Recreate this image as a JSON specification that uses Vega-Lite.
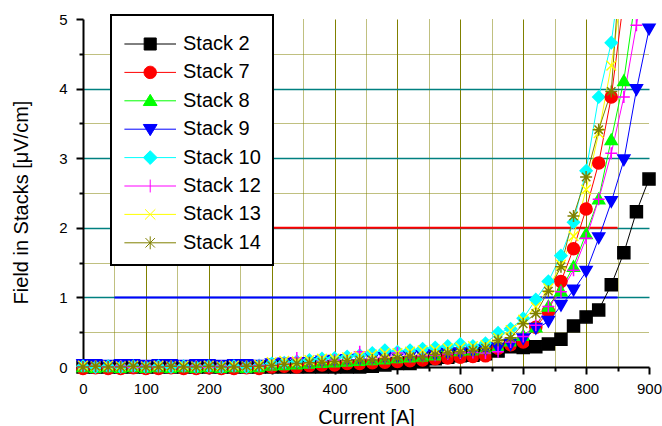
{
  "$schema": "https://vega.github.io/schema/vega-lite/v6.json",
  "width": 566,
  "height": 348,
  "autosize": {"type": "none"},
  "padding": {"left": 83, "top": 19, "right": 13, "bottom": 59},
  "background": "white",
  "config": {"view": {"stroke": null}, "font": "Liberation Sans"},
  "encoding": {
    "x": {
      "field": "x",
      "type": "quantitative",
      "scale": {"domain": [0, 900], "nice": false, "zero": false},
      "axis": {
        "title": "Current [A]",
        "values": [0, 50, 100, 150, 200, 250, 300, 350, 400, 450, 500, 550, 600, 650, 700, 750, 800, 850, 900],
        "labelExpr": "datum.value % 100 === 0 ? format(datum.value, 'd') : ''",
        "labelFont": "Liberation Sans",
        "labelFontSize": 15,
        "labelColor": "black",
        "labelPadding": 7,
        "labelFlush": false,
        "labelOverlap": false,
        "titleFont": "Liberation Sans",
        "titleFontSize": 20,
        "titleFontWeight": "normal",
        "titleColor": "black",
        "titleBaseline": "alphabetic",
        "titleX": 283,
        "titleY": 56,
        "domainColor": "black",
        "domainWidth": 2,
        "tickColor": "black",
        "tickWidth": 2,
        "tickSize": {"condition": {"test": "datum.value % 100 !== 0", "value": 4}, "value": 7},
        "grid": true,
        "gridColor": "#808000",
        "gridWidth": 1,
        "gridDash": {"condition": {"test": "datum.value % 100 !== 0", "value": [1, 1]}, "value": []},
        "gridOpacity": {"condition": {"test": "datum.value === 0 || datum.value === 900", "value": 0}, "value": 1}
      }
    },
    "y": {
      "field": "value",
      "type": "quantitative",
      "scale": {"domain": [0, 5], "nice": false, "zero": false},
      "axis": {
        "title": "Field in Stacks [μV/cm]",
        "values": [0, 0.5, 1, 1.5, 2, 2.5, 3, 3.5, 4, 4.5, 5],
        "labelExpr": "datum.value % 1 === 0 ? format(datum.value, 'd') : ''",
        "labelFont": "Liberation Sans",
        "labelFontSize": 15,
        "labelColor": "black",
        "labelPadding": 9,
        "labelFlush": false,
        "labelOverlap": false,
        "titleFont": "Liberation Sans",
        "titleFontSize": 20,
        "titleFontWeight": "normal",
        "titleColor": "black",
        "titleAngle": -90,
        "titleAlign": "center",
        "titleBaseline": "alphabetic",
        "titleX": -56,
        "titleY": 183,
        "domainColor": "black",
        "domainWidth": 2,
        "tickColor": "black",
        "tickWidth": 2,
        "tickSize": {"condition": {"test": "datum.value % 1 !== 0", "value": 4}, "value": 7},
        "grid": true,
        "gridColor": {"condition": {"test": "datum.value % 1 !== 0", "value": "#808000"}, "value": "#008080"},
        "gridWidth": {"condition": {"test": "datum.value % 1 !== 0", "value": 1}, "value": 1.3},
        "gridDash": {"condition": {"test": "datum.value % 1 !== 0", "value": [1, 1]}, "value": []},
        "gridOpacity": {"condition": {"test": "datum.value === 0 || datum.value === 5", "value": 0}, "value": 1}
      }
    }
  },
  "layer": [
    {
      "data": {"values": [{"value": 2, "x": 50, "x2": 850}]},
      "mark": {"type": "rule", "color": "#FF0000", "strokeWidth": 2},
      "encoding": {"x2": {"field": "x2"}}
    },
    {
      "data": {"values": [{"value": 1, "x": 50, "x2": 850}]},
      "mark": {"type": "rule", "color": "#0000FF", "strokeWidth": 2},
      "encoding": {"x2": {"field": "x2"}}
    },
    {
      "data": {
        "values": [
          {"x": 0, "Stack 2": 0, "Stack 7": -0.02, "Stack 8": 0.01, "Stack 9": 0.03, "Stack 10": 0.01, "Stack 12": 0.0, "Stack 13": 0.02, "Stack 14": 0.0},
          {"x": 20, "Stack 2": 0, "Stack 7": -0.01, "Stack 8": 0.0, "Stack 9": 0.03, "Stack 10": 0.0, "Stack 12": 0.01, "Stack 13": 0.01, "Stack 14": 0.01},
          {"x": 40, "Stack 2": 0, "Stack 7": -0.02, "Stack 8": 0.01, "Stack 9": 0.02, "Stack 10": 0.01, "Stack 12": 0.0, "Stack 13": 0.02, "Stack 14": 0.0},
          {"x": 60, "Stack 2": 0, "Stack 7": -0.02, "Stack 8": 0.0, "Stack 9": 0.03, "Stack 10": 0.0, "Stack 12": 0.01, "Stack 13": 0.01, "Stack 14": 0.0},
          {"x": 80, "Stack 2": 0, "Stack 7": -0.01, "Stack 8": 0.01, "Stack 9": 0.03, "Stack 10": 0.01, "Stack 12": 0.0, "Stack 13": 0.02, "Stack 14": 0.01},
          {"x": 100, "Stack 2": 0, "Stack 7": -0.02, "Stack 8": 0.0, "Stack 9": 0.02, "Stack 10": 0.0, "Stack 12": 0.01, "Stack 13": 0.01, "Stack 14": 0.0},
          {"x": 120, "Stack 2": 0, "Stack 7": -0.02, "Stack 8": 0.01, "Stack 9": 0.03, "Stack 10": 0.01, "Stack 12": 0.0, "Stack 13": 0.02, "Stack 14": 0.0},
          {"x": 140, "Stack 2": 0, "Stack 7": -0.01, "Stack 8": 0.0, "Stack 9": 0.03, "Stack 10": 0.0, "Stack 12": 0.01, "Stack 13": 0.01, "Stack 14": 0.01},
          {"x": 160, "Stack 2": 0, "Stack 7": -0.02, "Stack 8": 0.01, "Stack 9": 0.02, "Stack 10": 0.01, "Stack 12": 0.0, "Stack 13": 0.02, "Stack 14": 0.0},
          {"x": 180, "Stack 2": 0, "Stack 7": -0.02, "Stack 8": 0.0, "Stack 9": 0.03, "Stack 10": 0.0, "Stack 12": 0.01, "Stack 13": 0.01, "Stack 14": 0.0},
          {"x": 200, "Stack 2": 0, "Stack 7": -0.01, "Stack 8": 0.01, "Stack 9": 0.03, "Stack 10": 0.01, "Stack 12": 0.0, "Stack 13": 0.02, "Stack 14": 0.01},
          {"x": 220, "Stack 2": 0, "Stack 7": -0.02, "Stack 8": 0.0, "Stack 9": 0.02, "Stack 10": 0.0, "Stack 12": 0.01, "Stack 13": 0.01, "Stack 14": 0.0},
          {"x": 240, "Stack 2": 0, "Stack 7": -0.02, "Stack 8": 0.01, "Stack 9": 0.03, "Stack 10": 0.01, "Stack 12": 0.0, "Stack 13": 0.02, "Stack 14": 0.0},
          {"x": 260, "Stack 2": 0, "Stack 7": -0.01, "Stack 8": 0.0, "Stack 9": 0.03, "Stack 10": 0.0, "Stack 12": 0.01, "Stack 13": 0.01, "Stack 14": 0.01},
          {"x": 280, "Stack 2": 0, "Stack 7": -0.02, "Stack 8": 0.01, "Stack 9": 0.02, "Stack 10": 0.02, "Stack 12": 0.02, "Stack 13": 0.03, "Stack 14": 0.01},
          {"x": 300, "Stack 2": 0, "Stack 7": 0.0, "Stack 8": 0.03, "Stack 9": 0.04, "Stack 10": 0.05, "Stack 12": 0.02, "Stack 13": 0.07, "Stack 14": 0.02},
          {"x": 320, "Stack 2": 0, "Stack 7": 0.01, "Stack 8": 0.04, "Stack 9": 0.05, "Stack 10": 0.06, "Stack 12": 0.05, "Stack 13": 0.09, "Stack 14": 0.04},
          {"x": 340, "Stack 2": 0, "Stack 7": 0.0, "Stack 8": 0.05, "Stack 9": 0.06, "Stack 10": 0.08, "Stack 12": 0.13, "Stack 13": 0.08, "Stack 14": 0.05},
          {"x": 360, "Stack 2": 0, "Stack 7": 0.02, "Stack 8": 0.06, "Stack 9": 0.06, "Stack 10": 0.1, "Stack 12": 0.06, "Stack 13": 0.1, "Stack 14": 0.06},
          {"x": 380, "Stack 2": 0, "Stack 7": 0.03, "Stack 8": 0.07, "Stack 9": 0.08, "Stack 10": 0.12, "Stack 12": 0.08, "Stack 13": 0.12, "Stack 14": 0.07},
          {"x": 400, "Stack 2": 0, "Stack 7": 0.03, "Stack 8": 0.08, "Stack 9": 0.09, "Stack 10": 0.13, "Stack 12": 0.1, "Stack 13": 0.12, "Stack 14": 0.08},
          {"x": 420, "Stack 2": 0, "Stack 7": 0.05, "Stack 8": 0.09, "Stack 9": 0.1, "Stack 10": 0.15, "Stack 12": 0.09, "Stack 13": 0.14, "Stack 14": 0.09},
          {"x": 440, "Stack 2": 0, "Stack 7": 0.05, "Stack 8": 0.1, "Stack 9": 0.11, "Stack 10": 0.17, "Stack 12": 0.22, "Stack 13": 0.16, "Stack 14": 0.1},
          {"x": 460, "Stack 2": 0.01, "Stack 7": 0.06, "Stack 8": 0.11, "Stack 9": 0.12, "Stack 10": 0.2, "Stack 12": 0.12, "Stack 13": 0.18, "Stack 14": 0.1},
          {"x": 480, "Stack 2": 0.03, "Stack 7": 0.07, "Stack 8": 0.12, "Stack 9": 0.13, "Stack 10": 0.24, "Stack 12": 0.14, "Stack 13": 0.2, "Stack 14": 0.12},
          {"x": 500, "Stack 2": 0.05, "Stack 7": 0.08, "Stack 8": 0.14, "Stack 9": 0.14, "Stack 10": 0.22, "Stack 12": 0.2, "Stack 13": 0.2, "Stack 14": 0.13},
          {"x": 520, "Stack 2": 0.05, "Stack 7": 0.09, "Stack 8": 0.15, "Stack 9": 0.15, "Stack 10": 0.24, "Stack 12": 0.15, "Stack 13": 0.22, "Stack 14": 0.15},
          {"x": 540, "Stack 2": 0.08, "Stack 7": 0.1, "Stack 8": 0.16, "Stack 9": 0.16, "Stack 10": 0.26, "Stack 12": 0.16, "Stack 13": 0.24, "Stack 14": 0.14},
          {"x": 560, "Stack 2": 0.12, "Stack 7": 0.12, "Stack 8": 0.18, "Stack 9": 0.17, "Stack 10": 0.28, "Stack 12": 0.17, "Stack 13": 0.25, "Stack 14": 0.18},
          {"x": 580, "Stack 2": 0.14, "Stack 7": 0.13, "Stack 8": 0.3, "Stack 9": 0.19, "Stack 10": 0.3, "Stack 12": 0.19, "Stack 13": 0.27, "Stack 14": 0.2},
          {"x": 600, "Stack 2": 0.16, "Stack 7": 0.14, "Stack 8": 0.24, "Stack 9": 0.2, "Stack 10": 0.33, "Stack 12": 0.2, "Stack 13": 0.28, "Stack 14": 0.22},
          {"x": 620, "Stack 2": 0.17, "Stack 7": 0.15, "Stack 8": 0.25, "Stack 9": 0.22, "Stack 10": 0.3, "Stack 12": 0.21, "Stack 13": 0.3, "Stack 14": 0.24},
          {"x": 640, "Stack 2": 0.19, "Stack 7": 0.16, "Stack 8": 0.27, "Stack 9": 0.24, "Stack 10": 0.34, "Stack 12": 0.2, "Stack 13": 0.32, "Stack 14": 0.27},
          {"x": 660, "Stack 2": 0.23, "Stack 7": 0.27, "Stack 8": 0.3, "Stack 9": 0.27, "Stack 10": 0.49, "Stack 12": 0.22, "Stack 13": 0.42, "Stack 14": 0.38},
          {"x": 680, "Stack 2": 0.29, "Stack 7": 0.32, "Stack 8": 0.38, "Stack 9": 0.32, "Stack 10": 0.55, "Stack 12": 0.36, "Stack 13": 0.53, "Stack 14": 0.42},
          {"x": 700, "Stack 2": 0.28, "Stack 7": 0.36, "Stack 8": 0.46, "Stack 9": 0.4, "Stack 10": 0.7, "Stack 12": 0.44, "Stack 13": 0.68, "Stack 14": 0.62},
          {"x": 720, "Stack 2": 0.29, "Stack 7": 0.57, "Stack 8": 0.58, "Stack 9": 0.55, "Stack 10": 0.97, "Stack 12": 0.6, "Stack 13": 0.86, "Stack 14": 0.77},
          {"x": 740, "Stack 2": 0.33, "Stack 7": 0.8, "Stack 8": 0.88, "Stack 9": 0.65, "Stack 10": 1.23, "Stack 12": 0.87, "Stack 13": 1.13, "Stack 14": 1.09},
          {"x": 760, "Stack 2": 0.4, "Stack 7": 1.23, "Stack 8": 1.1, "Stack 9": 0.88, "Stack 10": 1.6, "Stack 12": 1.08, "Stack 13": 1.47, "Stack 14": 1.44},
          {"x": 780, "Stack 2": 0.59, "Stack 7": 1.7, "Stack 8": 1.45, "Stack 9": 1.1, "Stack 10": 2.08, "Stack 12": 1.39, "Stack 13": 1.88, "Stack 14": 2.17},
          {"x": 800, "Stack 2": 0.72, "Stack 7": 2.27, "Stack 8": 1.92, "Stack 9": 1.37, "Stack 10": 2.82, "Stack 12": 1.85, "Stack 13": 2.55, "Stack 14": 2.73},
          {"x": 820, "Stack 2": 0.82, "Stack 7": 2.93, "Stack 8": 2.42, "Stack 9": 1.85, "Stack 10": 3.88, "Stack 12": 2.41, "Stack 13": 3.36, "Stack 14": 3.41},
          {"x": 840, "Stack 2": 1.18, "Stack 7": 3.88, "Stack 8": 3.27, "Stack 9": 2.37, "Stack 10": 4.66, "Stack 12": 3.07, "Stack 13": 4.33, "Stack 14": 3.96},
          {"x": 860, "Stack 2": 1.64, "Stack 7": 5.3, "Stack 8": 4.12, "Stack 9": 2.97, "Stack 10": 6.0, "Stack 12": 3.88, "Stack 13": 5.6, "Stack 14": 6.5},
          {"x": 880, "Stack 2": 2.23, "Stack 7": null, "Stack 8": 5.4, "Stack 9": 3.98, "Stack 10": null, "Stack 12": 4.91, "Stack 13": null, "Stack 14": null},
          {"x": 900, "Stack 2": 2.7, "Stack 7": null, "Stack 8": null, "Stack 9": 4.85, "Stack 10": null, "Stack 12": 6.0, "Stack 13": null, "Stack 14": null}
        ]
      },
      "transform": [
        {"fold": ["Stack 2", "Stack 7", "Stack 8", "Stack 9", "Stack 10", "Stack 12", "Stack 13", "Stack 14"], "as": ["series", "value"]},
        {"filter": "isValid(datum.value)"}
      ],
      "resolve": {"legend": {"color": "independent", "shape": "independent", "stroke": "independent"}},
      "layer": [
        {
          "mark": {"type": "line", "strokeWidth": 1, "clip": true},
          "encoding": {
            "color": {
              "field": "series",
              "type": "nominal",
              "scale": {
                "domain": ["Stack 2", "Stack 7", "Stack 8", "Stack 9", "Stack 10", "Stack 12", "Stack 13", "Stack 14"],
                "range": ["#000000", "#FF0000", "#00FF00", "#0000FF", "#00FFFF", "#FF00FF", "#FFFF00", "#808000"]
              },
              "legend": {
                "orient": "none",
                "legendX": 28,
                "legendY": -4,
                "title": " ",
                "titleFontSize": 1,
                "titlePadding": 6,
                "labelFont": "Liberation Sans",
                "labelFontSize": 20,
                "labelColor": "black",
                "labelLimit": 300,
                "symbolSize": 296,
                "symbolStrokeWidth": 1,
                "labelOffset": 40,
                "rowPadding": 8.4,
                "padding": 12,
                "strokeColor": "black",
                "fillColor": "white",
                "encode": {
                  "legend": {"update": {"strokeWidth": {"value": 2}}},
                  "symbols": {
                    "update": {
                      "shape": {"signal": "['M-1,0H5M1.3,-0.7H2.7V0.7H1.3Z','M-1,0H5M2.72,0A0.72,0.72 0 1 1 1.28,0A0.72,0.72 0 1 1 2.72,0Z','M-1,0H5M2,-0.75L2.8,0.55H1.2Z','M-1,0H5M2,0.75L2.8,-0.55H1.2Z','M-1,0H5M2,-0.8L2.8,0L2,0.8L1.2,0Z','M-1,0H5M2,-0.75V0.75','M-1,0H5M1.4,-0.6L2.6,0.6M1.4,0.6L2.6,-0.6','M-1,0H5M2,-0.75V0.75M1.45,-0.55L2.55,0.55M1.45,0.55L2.55,-0.55'][indexof(['Stack 2','Stack 7','Stack 8','Stack 9','Stack 10','Stack 12','Stack 13','Stack 14'], datum.value)]"},
                      "fill": {"scale": "color", "field": "value"},
                      "stroke": {"scale": "color", "field": "value"},
                      "strokeWidth": {"value": 1},
                      "opacity": {"value": 1},
                      "fillOpacity": {"value": 1}
                    }
                  }
                }
              }
            }
          }
        },
        {
          "transform": [{"filter": "datum.value <= 5"}],
          "mark": {"type": "point", "filled": true, "size": 144, "strokeWidth": 1.5, "opacity": 1},
          "encoding": {
            "color": {
              "field": "series",
              "type": "nominal",
              "scale": {
                "domain": ["Stack 2", "Stack 7", "Stack 8", "Stack 9", "Stack 10", "Stack 12", "Stack 13", "Stack 14"],
                "range": ["#000000", "#FF0000", "#00FF00", "#0000FF", "#00FFFF", "#FF00FF", "#FFFF00", "#808000"]
              },
              "legend": null
            },
            "stroke": {
              "field": "series",
              "type": "nominal",
              "scale": {
                "domain": ["Stack 2", "Stack 7", "Stack 8", "Stack 9", "Stack 10", "Stack 12", "Stack 13", "Stack 14"],
                "range": ["#000000", "#FF0000", "#00FF00", "#0000FF", "#00FFFF", "#FF00FF", "#FFFF00", "#808000"]
              },
              "legend": null
            },
            "shape": {
              "field": "series",
              "type": "nominal",
              "scale": {
                "domain": ["Stack 2", "Stack 7", "Stack 8", "Stack 9", "Stack 10", "Stack 12", "Stack 13", "Stack 14"],
                "range": ["square", "circle", "triangle-up", "triangle-down", "diamond", "M-1,0H1M0,-1V1", "M-0.8,-0.8L0.8,0.8M-0.8,0.8L0.8,-0.8", "M-1,0H1M0,-1V1M-0.7,-0.7L0.7,0.7M-0.7,0.7L0.7,-0.7"]
              },
              "legend": null
            }
          }
        }
      ]
    }
  ]
}
